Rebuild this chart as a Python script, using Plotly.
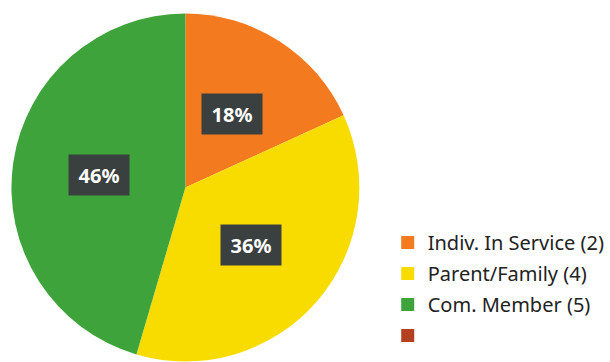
import math
import plotly.graph_objects as go

categories = ["Indiv. In Service (2)", "Parent/Family (4)", "Com. Member (5)", ""]
values = [2, 4, 5, 0]
pct_labels = ["18%", "36%", "46%", ""]
colors = ["#F47A20", "#F8DC00", "#3DA33A", "#B5401F"]

W, H = 610, 362
dom_x = [11.5 / W, 360.5 / W]
dom_y = [0.0, 1 - 13 / H]

fig = go.Figure()
fig.add_trace(go.Pie(
    labels=categories, values=values, sort=False, direction="clockwise",
    marker=dict(colors=colors, line=dict(width=0)),
    textinfo="none", hoverinfo="label+percent", showlegend=False,
    domain=dict(x=dom_x, y=dom_y),
))

# legend entries via invisible scatter traces
for i, (c, col) in enumerate(zip(categories, colors)):
    fig.add_trace(go.Scatter(
        x=[None], y=[None], mode="markers", name=c if c else " ",
        marker=dict(symbol="square", size=13, color=col),
        legendgroup=f"g{i}", showlegend=True,
    ))

# percentage label boxes
cx = (dom_x[0] + dom_x[1]) / 2
cy = (dom_y[0] + dom_y[1]) / 2
R = min((dom_x[1] - dom_x[0]) * W, (dom_y[1] - dom_y[0]) * H) / 2
total = sum(values)
cum = 0
for v, t in zip(values, pct_labels):
    if v <= 0:
        continue
    mid = (cum + v / 2) / total * 2 * math.pi
    cum += v
    px = cx + 0.5 * R * math.sin(mid) / W
    py = cy + 0.5 * R * math.cos(mid) / H
    fig.add_annotation(
        x=px, y=py, xref="paper", yref="paper", text="<b>" + t + "</b>", showarrow=False,
        font=dict(family="Noto Sans", size=20, color="white"),
        bgcolor="#3A4040", width=46, height=26, borderpad=7,
        xanchor="center", yanchor="middle",
    )

fig.update_layout(
    width=W, height=H, margin=dict(l=0, r=0, t=0, b=0),
    paper_bgcolor="white", plot_bgcolor="white",
    xaxis=dict(visible=False), yaxis=dict(visible=False),
    legend=dict(x=389 / W, y=1 - 223 / H, xanchor="left", yanchor="top",
                font=dict(family="Noto Sans", size=20, color="#222222"),
                traceorder="grouped", tracegroupgap=2, itemwidth=30,
                bgcolor="rgba(0,0,0,0)"),
)
fig.write_html("out.html")
